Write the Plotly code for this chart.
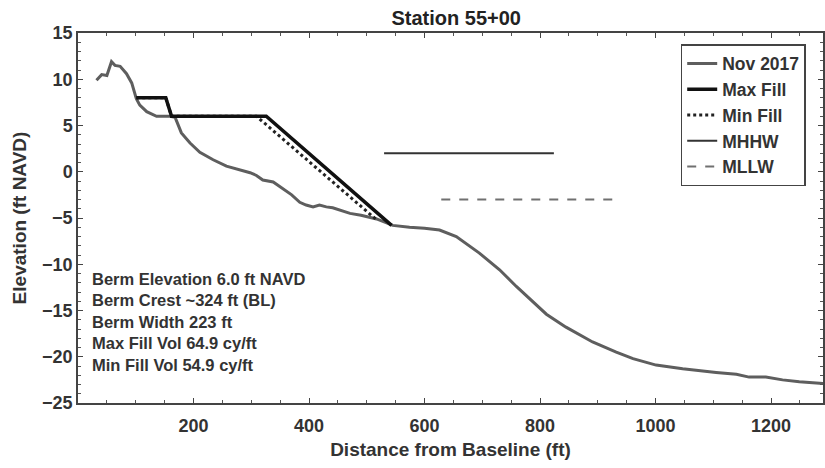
import plotly.graph_objects as go

# Nov 2017 survey profile
prof_x = [32, 41, 50, 58, 64, 73, 84, 93, 101, 107, 119, 136, 159, 168, 179, 194, 211, 234, 257,
          280, 298, 309, 320, 338, 355, 370, 384, 395, 407, 418, 430, 441, 471, 490, 517, 545,
          574, 600, 626, 655, 695, 730, 759, 787, 811, 845, 891, 932, 961, 1001, 1047, 1105,
          1140, 1162, 1191, 1220, 1249, 1290]
prof_y = [9.9, 10.5, 10.4, 11.9, 11.5, 11.4, 10.6, 9.6, 7.9, 7.2, 6.5, 6.0, 6.0, 5.9, 4.2, 3.1, 2.1,
          1.3, 0.6, 0.2, -0.1, -0.4, -0.9, -1.1, -1.8, -2.5, -3.3, -3.6, -3.8, -3.6, -3.8, -3.9,
          -4.5, -4.7, -5.1, -5.8, -6.0, -6.1, -6.3, -7.0, -8.8, -10.6, -12.4, -14.0, -15.4,
          -16.8, -18.4, -19.5, -20.2, -20.9, -21.3, -21.7, -21.9, -22.2, -22.2, -22.5, -22.7, -22.9]

# Design templates
max_x = [101, 152, 162, 326, 543]
max_y = [8.0, 8.0, 6.0, 6.0, -5.8]
min_x = [101, 152, 162, 309, 519]
min_y = [8.0, 8.0, 6.0, 6.0, -5.3]

# Tidal datums
mhhw_x = [530, 824]
mhhw_y = [2.0, 2.0]
mllw_x = [629, 926]
mllw_y = [-3.0, -3.0]

x_ticks = [200, 400, 600, 800, 1000, 1200]
y_ticks = [-25, -20, -15, -10, -5, 0, 5, 10, 15]
x_range = [0, 1290]
y_range = [-25, 15]

info_lines = ["Berm Elevation 6.0 ft NAVD", "Berm Crest ~324 ft (BL)", "Berm Width 223 ft",
              "Max Fill Vol 64.9 cy/ft", "Min Fill Vol 54.9 cy/ft"]

FONT = "Liberation Sans"
TXT = "#333333"

fig = go.Figure()
fig.add_trace(go.Scatter(x=prof_x, y=prof_y, mode="lines", name="Nov 2017", legendrank=1,
                         line=dict(color="#5e5e5e", width=3)))
fig.add_trace(go.Scatter(x=min_x, y=min_y, mode="lines", name="Min Fill", legendrank=3,
                         line=dict(color="#222222", width=3, dash="dot")))
fig.add_trace(go.Scatter(x=max_x, y=max_y, mode="lines", name="Max Fill", legendrank=2,
                         line=dict(color="#111111", width=3.5)))
fig.add_trace(go.Scatter(x=mhhw_x, y=mhhw_y, mode="lines", name="MHHW", legendrank=4,
                         line=dict(color="#333333", width=2)))
fig.add_trace(go.Scatter(x=mllw_x, y=mllw_y, mode="lines", name="MLLW", legendrank=5,
                         line=dict(color="#707070", width=2, dash="dash")))
# invisible trace carrying the mirrored (top/right) axes
fig.add_trace(go.Scatter(x=[None], y=[None], xaxis="x2", yaxis="y2", showlegend=False,
                         hoverinfo="skip", mode="lines"))

fig.add_annotation(xref="paper", yref="paper", x=0.016, y=0.365, xanchor="left", yanchor="top",
                   text="<br>".join(info_lines), showarrow=False, align="left",
                   font=dict(family=FONT, size=16.5, color=TXT, weight="bold"))

tick_common = dict(showgrid=False, zeroline=False, showline=True, linecolor="#444444", linewidth=1.5,
                   ticks="inside", ticklen=5, tickcolor="#444444")
tf = dict(family=FONT, size=18, color=TXT, weight="bold")

fig.update_layout(
    width=825, height=468,
    margin=dict(l=78, r=2, t=33, b=65),
    plot_bgcolor="white", paper_bgcolor="white",
    xaxis=dict(range=x_range, tickvals=x_ticks, tickfont=tf, ticklabelstandoff=6,
               minor=dict(dtick=50, ticks="inside", ticklen=3, tickcolor="#555555"),
               title=dict(text="Distance from Baseline (ft)", standoff=7,
                          font=dict(family=FONT, size=19, color=TXT, weight="bold")),
               **tick_common),
    yaxis=dict(range=y_range, tickvals=y_ticks, tickfont=tf,
               minor=dict(dtick=1, ticks="inside", ticklen=3, tickcolor="#555555"),
               title=dict(text="Elevation (ft NAVD)", standoff=10,
                          font=dict(family=FONT, size=19, color=TXT, weight="bold")),
               **tick_common),
    xaxis2=dict(range=x_range, tickvals=x_ticks, overlaying="x", side="top", anchor="y2",
                showticklabels=False,
                minor=dict(dtick=50, ticks="inside", ticklen=3, tickcolor="#555555"),
                **tick_common),
    yaxis2=dict(range=y_range, tickvals=y_ticks, overlaying="y", side="right", anchor="x2",
                showticklabels=False,
                minor=dict(dtick=1, ticks="inside", ticklen=3, tickcolor="#555555"),
                **tick_common),
    title=dict(text="Station 55+00", x=0.553, xref="container", xanchor="center",
               y=1 - 18 / 468, yref="container", yanchor="middle",
               font=dict(family=FONT, size=20, color="#222222", weight="bold")),
    showlegend=True,
    legend=dict(x=0.809, y=0.97, xanchor="left", yanchor="top", bgcolor="white",
                bordercolor="#444444", borderwidth=1.5,
                font=dict(family=FONT, size=17.5, color=TXT, weight="bold"),
                tracegroupgap=0),
)

fig.write_html("out.html")
